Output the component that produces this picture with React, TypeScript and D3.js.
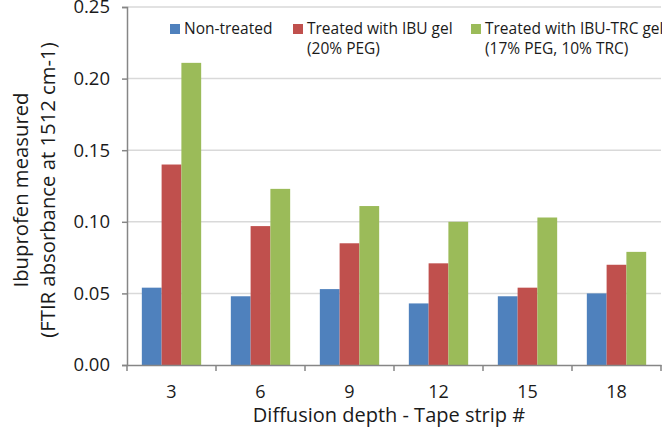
import React, { useRef, useEffect } from 'react';
import * as d3 from 'd3';

const categories = ['3', '6', '9', '12', '15', '18'];
const seriesNames = ['Non-treated', 'Treated with IBU gel', 'Treated with IBU-TRC gel'];
const seriesSub = ['', '(20% PEG)', '(17% PEG, 10% TRC)'];
const nonTreated = [0.054, 0.048, 0.053, 0.043, 0.048, 0.050];
const ibuGel = [0.140, 0.097, 0.085, 0.071, 0.054, 0.070];
const ibuTrcGel = [0.211, 0.123, 0.111, 0.100, 0.103, 0.079];
const yTicks = [0, 0.05, 0.10, 0.15, 0.20, 0.25];
const colors = ['#4F81BD', '#C0504D', '#9BBB59'];

const FONT = '"Open Sans", "Noto Sans", sans-serif';

const App: React.FC = () => {
  const ref = useRef<SVGSVGElement>(null);

  useEffect(() => {
    if (!ref.current) return;
    const svg = d3.select(ref.current);
    svg.selectAll('*').remove();

    const margin = { top: 7, right: 1, bottom: 68, left: 127 };
    const W = 662, H = 433;
    const width = W - margin.left - margin.right;
    const height = H - margin.top - margin.bottom;

    const g = svg.append('g').attr('transform', `translate(${margin.left},${margin.top})`);

    const x = d3.scaleBand().domain(categories).range([0, width]).paddingInner(0).paddingOuter(0);
    const x1 = d3.scaleBand().domain(['0', '1', '2']).range([0, x.bandwidth()]).paddingOuter(0.75).paddingInner(0);
    const y = d3.scaleLinear().domain([0, 0.25]).range([height, 0]);

    // gridlines
    g.selectAll('.grid')
      .data(yTicks.slice(1))
      .enter()
      .append('line')
      .attr('x1', 0)
      .attr('x2', width)
      .attr('y1', d => y(d))
      .attr('y2', d => y(d))
      .attr('stroke', '#d9d9d9')
      .attr('stroke-width', 1.5);

    // bars
    const data = [nonTreated, ibuGel, ibuTrcGel];
    data.forEach((vals, si) => {
      g.selectAll(`.bar-${si}`)
        .data(vals)
        .enter()
        .append('rect')
        .attr('x', (_, i) => (x(categories[i]) || 0) + (x1(String(si)) || 0))
        .attr('y', d => y(d))
        .attr('width', x1.bandwidth())
        .attr('height', d => height - y(d))
        .attr('fill', colors[si]);
    });

    // y axis
    const yAxis = d3.axisLeft(y).tickValues(yTicks).tickFormat(d3.format('.2f')).tickSize(5).tickPadding(12);
    const ya = g.append('g').call(yAxis);
    ya.select('.domain').attr('stroke', '#868686').attr('stroke-width', 1.5);
    ya.selectAll('.tick line').attr('stroke', '#868686').attr('stroke-width', 1.5);
    ya.selectAll('.tick text')
      .style('font-family', FONT)
      .style('font-size', '18.5px')
      .attr('fill', '#1a1a1a');

    // x axis
    const xAxis = d3.axisBottom(x).tickSize(0).tickPadding(20);
    const xa = g.append('g').attr('transform', `translate(0,${height})`).call(xAxis);
    xa.select('.domain').attr('stroke', '#868686').attr('stroke-width', 1.5);
    xa.selectAll('.tick text')
      .style('font-family', FONT)
      .style('font-size', '18px')
      .attr('fill', '#1a1a1a');
    // category boundary ticks
    g.selectAll('.xtick')
      .data(categories.concat(['end']))
      .enter()
      .append('line')
      .attr('x1', (_, i) => i * x.bandwidth())
      .attr('x2', (_, i) => i * x.bandwidth())
      .attr('y1', height)
      .attr('y2', height + 6)
      .attr('stroke', '#868686')
      .attr('stroke-width', 1.5);

    // axis titles
    svg.append('text')
      .attr('x', margin.left + width / 2 - 5)
      .attr('y', 422)
      .attr('text-anchor', 'middle')
      .style('font-family', FONT)
      .style('font-size', '20px')
      .attr('fill', '#1a1a1a')
      .text('Diffusion depth - Tape strip #');

    const yt = svg.append('text')
      .attr('transform', `translate(0,190) rotate(-90)`)
      .attr('text-anchor', 'middle')
      .style('font-family', FONT)
      .style('font-size', '20.3px')
      .attr('fill', '#1a1a1a');
    yt.append('tspan').attr('x', 0).attr('y', 28).text('Ibuprofen measured');
    yt.append('tspan').attr('x', 0).attr('y', 55).text('(FTIR absorbance at 1512 cm-1)');

    // legend
    const legendX = [170, 293, 471];
    seriesNames.forEach((name, i) => {
      const lg = svg.append('g').attr('transform', `translate(${legendX[i]},24)`);
      lg.append('rect').attr('width', 10).attr('height', 10).attr('fill', colors[i]);
      const t = lg.append('text')
        .style('font-family', FONT)
        .style('font-size', '15.5px')
        .attr('fill', '#1a1a1a');
      t.append('tspan').attr('x', 14).attr('y', 10).text(name);
      if (seriesSub[i]) t.append('tspan').attr('x', 14).attr('y', 30).text(seriesSub[i]);
    });
  }, []);

  return (
    <svg
      ref={ref}
      width={662}
      height={433}
      style={{ position: 'absolute', left: 0, top: 0, background: '#fff' }}
    />
  );
};

export default App;
